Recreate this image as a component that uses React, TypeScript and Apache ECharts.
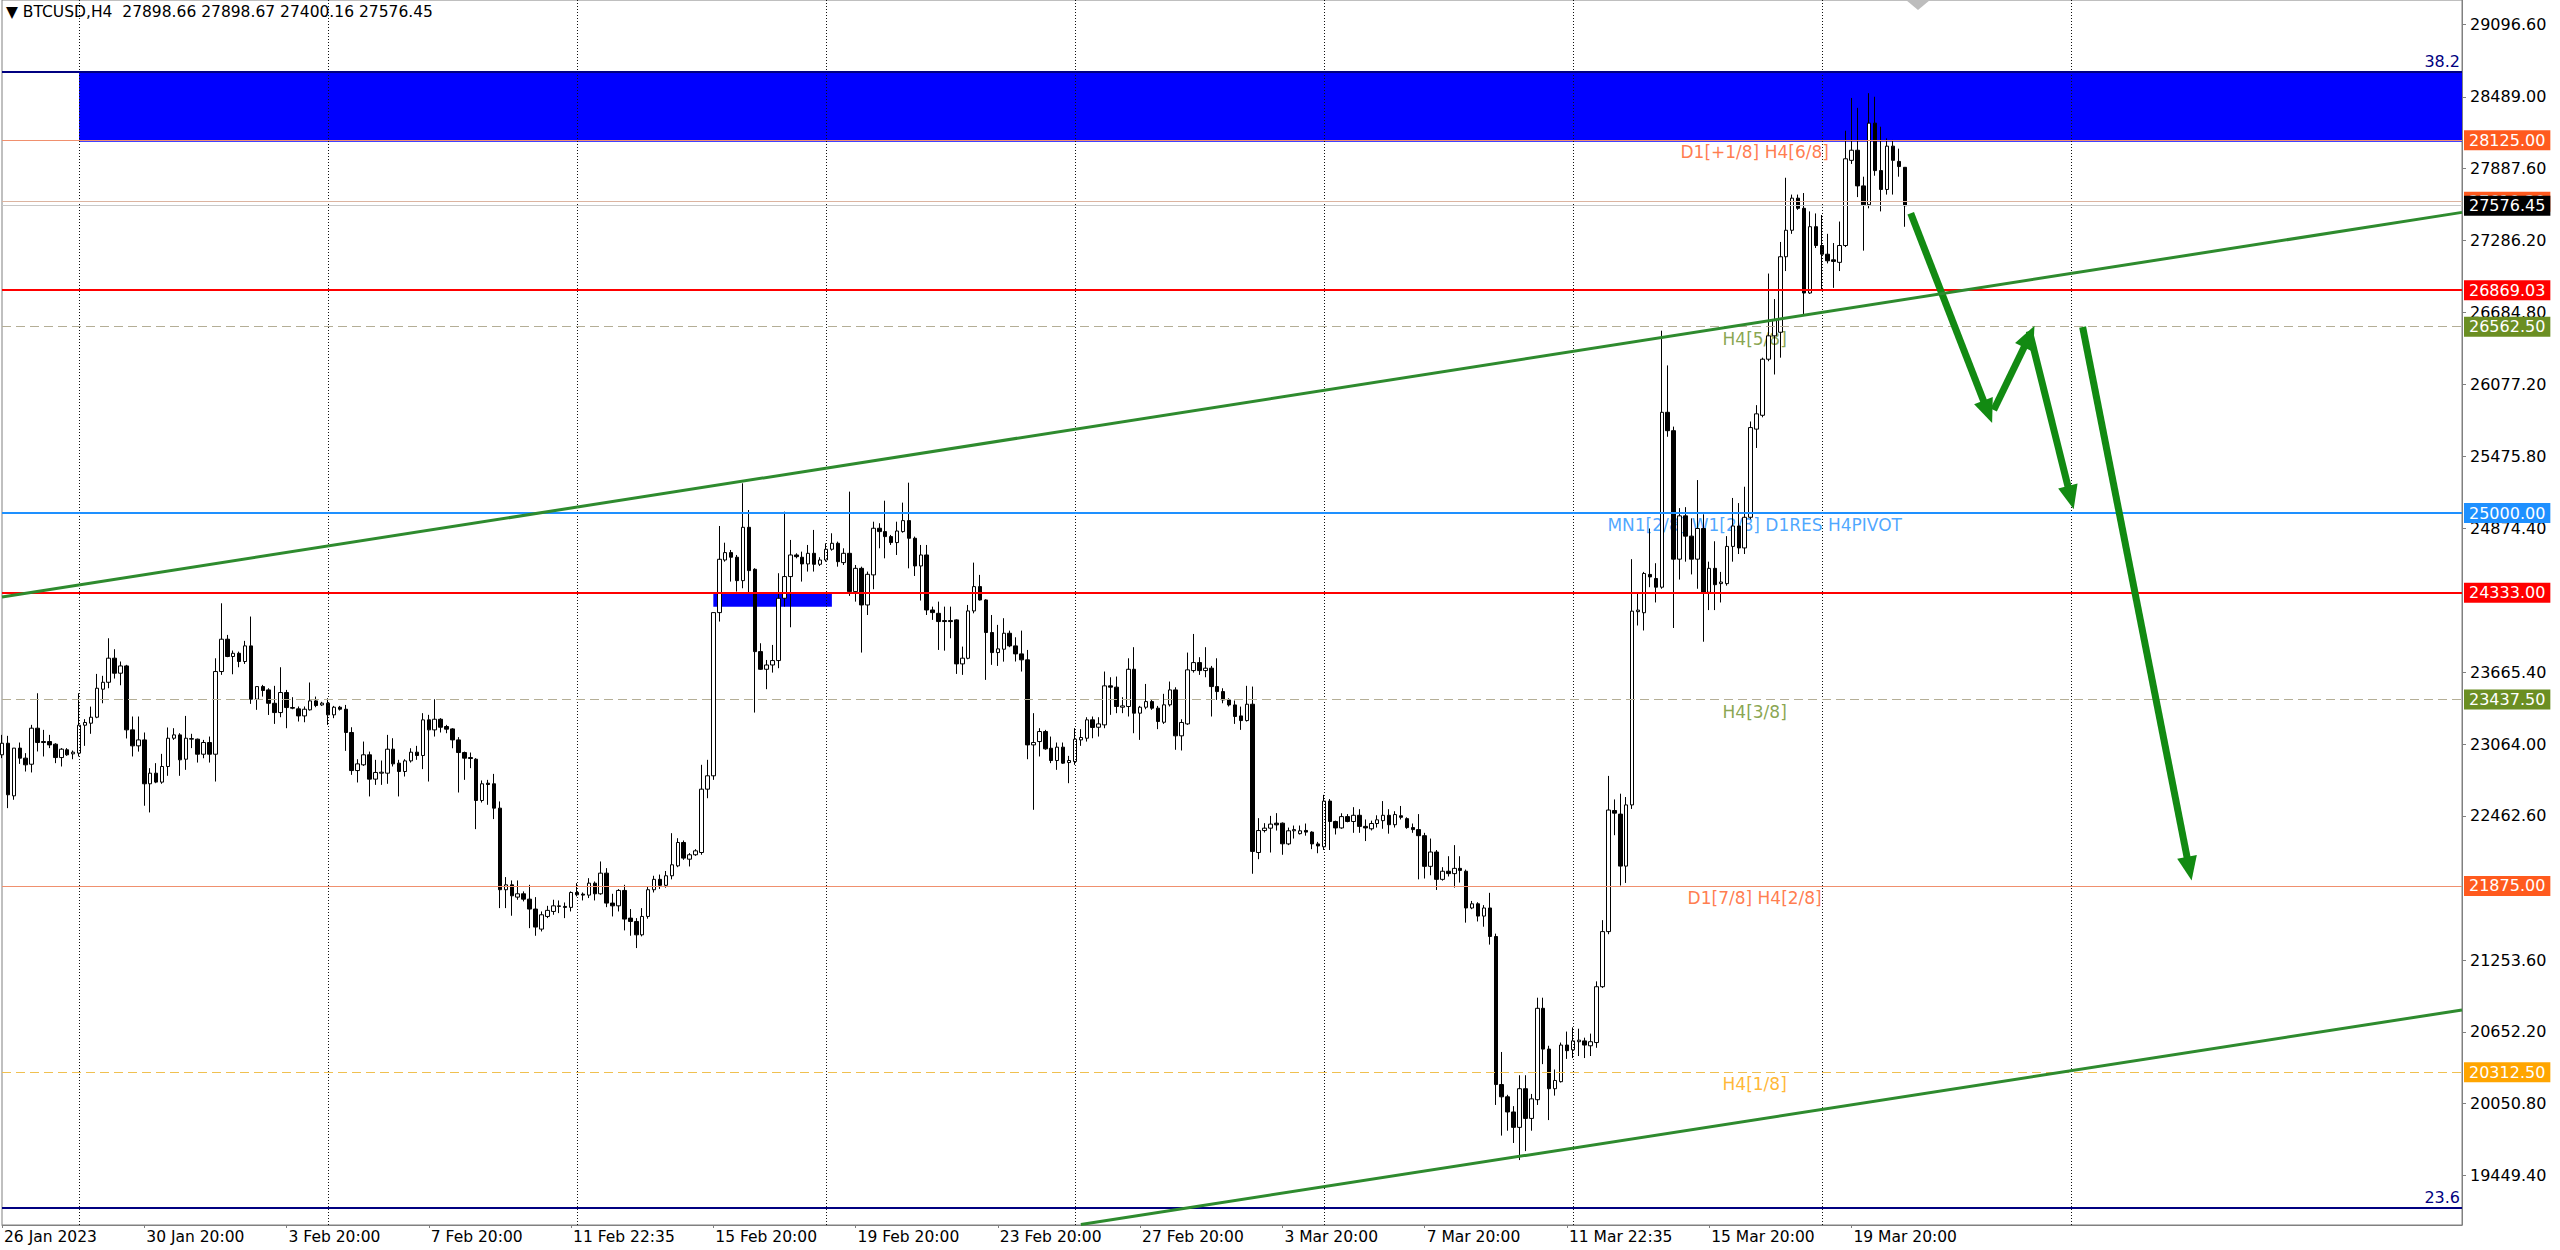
import React, { useEffect, useRef } from "react";
import * as echarts from "echarts";

const SYMBOL = "BTCUSD";
const TIMEFRAME = "H4";

// [open, high, low, close] per H4 bar
const candles: number[][] = [
  [22974, 23141, 22946, 23071], [23071, 23133, 22527, 22639], [22630, 23030, 22597, 23030], [23030, 23077, 22898, 22946],
  [22946, 22988, 22834, 22890], [22895, 23225, 22826, 23197], [23197, 23490, 23002, 23077], [23085, 23183, 22960, 23077],
  [23085, 23141, 23030, 23057], [23063, 23071, 22904, 22951], [22951, 23030, 22876, 23021], [23016, 23030, 22965, 22974],
  [22982, 23010, 22937, 22996], [22988, 23490, 22960, 23222], [23222, 23273, 23049, 23245], [23239, 23378, 23150, 23289],
  [23289, 23652, 23281, 23532], [23524, 23636, 23406, 23582], [23582, 23951, 23532, 23784], [23784, 23859, 23613, 23658],
  [23658, 23756, 23557, 23719], [23719, 23728, 23111, 23183], [23183, 23295, 22960, 23049], [23049, 23295, 23001, 23099],
  [23099, 23161, 22547, 22731], [22731, 22862, 22491, 22820], [22820, 22904, 22736, 22745], [22745, 22982, 22731, 22876],
  [22876, 23203, 22798, 23113], [23113, 23197, 23099, 23141], [23141, 23155, 22798, 22932], [22937, 23300, 22848, 23113],
  [23105, 23150, 23030, 23110], [23105, 23110, 22909, 22979], [22979, 23099, 22945, 23077], [23077, 23127, 22909, 22979],
  [22979, 23783, 22750, 23672], [23672, 24244, 23644, 23943], [23943, 23979, 23792, 23798], [23798, 23848, 23649, 23825],
  [23825, 23839, 23708, 23756], [23756, 23929, 23736, 23887], [23887, 24133, 23401, 23440], [23440, 23546, 23351, 23546],
  [23546, 23560, 23462, 23513], [23518, 23532, 23308, 23406], [23406, 23552, 23233, 23328], [23328, 23708, 23289, 23496],
  [23496, 23518, 23197, 23370], [23370, 23457, 23356, 23365], [23359, 23379, 23253, 23300], [23300, 23379, 23247, 23356],
  [23351, 23580, 23345, 23426], [23426, 23462, 23373, 23387], [23392, 23418, 23384, 23407], [23407, 23448, 23225, 23309],
  [23309, 23384, 23281, 23373], [23373, 23384, 23345, 23356], [23356, 23392, 23007, 23161], [23161, 23205, 22806, 22842],
  [22842, 22937, 22742, 22898], [22890, 23085, 22881, 22974], [22974, 23001, 22625, 22770], [22770, 22932, 22722, 22826],
  [22820, 22926, 22722, 22828], [22820, 23141, 22731, 23021], [23021, 23113, 22876, 22898], [22904, 22932, 22625, 22834],
  [22834, 22937, 22792, 22923], [22923, 23029, 22909, 22996], [22996, 23049, 22932, 22968], [22968, 23323, 22854, 23267],
  [23267, 23309, 22750, 23183], [23183, 23440, 23127, 23272], [23272, 23281, 23161, 23205], [23211, 23225, 23155, 23189],
  [23191, 23197, 23029, 23099], [23099, 23122, 22658, 22993], [22993, 23001, 22764, 22946], [22951, 22993, 22862, 22943],
  [22937, 22946, 22351, 22591], [22591, 22759, 22574, 22731], [22736, 22764, 22555, 22725], [22731, 22814, 22435, 22527],
  [22527, 22583, 21689, 21843], [21843, 21949, 21689, 21884], [21884, 21921, 21625, 21792], [21781, 21921, 21759, 21809],
  [21809, 21829, 21745, 21764], [21764, 21884, 21521, 21681], [21681, 21781, 21457, 21530], [21513, 21661, 21493, 21633],
  [21619, 21708, 21605, 21670], [21661, 21759, 21633, 21708], [21703, 21753, 21647, 21708], [21703, 21736, 21605, 21695],
  [21695, 21829, 21661, 21820], [21820, 21898, 21787, 21801], [21806, 21820, 21753, 21798], [21798, 21940, 21773, 21898],
  [21898, 21912, 21753, 21809], [21809, 22080, 21801, 21982], [21982, 22024, 21697, 21731], [21731, 21809, 21619, 21708],
  [21708, 21848, 21661, 21837], [21837, 21884, 21502, 21597], [21605, 21681, 21457, 21577], [21577, 21605, 21354, 21465],
  [21465, 21689, 21452, 21619], [21619, 21870, 21600, 21843], [21843, 21960, 21820, 21930], [21930, 21970, 21850, 21880],
  [21880, 22000, 21860, 21960], [21960, 22317, 21930, 22052], [22043, 22275, 22032, 22239], [22239, 22256, 22094, 22108],
  [22099, 22150, 22038, 22136], [22136, 22183, 22127, 22169], [22155, 22890, 22136, 22686], [22686, 22932, 22610, 22798],
  [22798, 24166, 22764, 24166], [24166, 24892, 24091, 24613], [24607, 24752, 24593, 24669], [24669, 24691, 24426, 24630],
  [24630, 24649, 24342, 24434], [24434, 25250, 24370, 24881], [24881, 25026, 24328, 24518], [24529, 24538, 23328, 23839],
  [23839, 23909, 23686, 23691], [23691, 23769, 23524, 23727], [23727, 23895, 23663, 23764], [23764, 24496, 23700, 24286],
  [24286, 25012, 24216, 24468], [24468, 24775, 24043, 24649], [24649, 24663, 24621, 24635], [24630, 24677, 24426, 24574],
  [24574, 24733, 24510, 24663], [24663, 24859, 24510, 24571], [24571, 24630, 24557, 24607], [24607, 24747, 24593, 24697],
  [24697, 24831, 24685, 24747], [24747, 24761, 24551, 24593], [24585, 24705, 24565, 24663], [24663, 25180, 24306, 24342],
  [24342, 24565, 24258, 24537], [24537, 24551, 23831, 24230], [24230, 24510, 24146, 24487], [24482, 24928, 24362, 24873],
  [24873, 24915, 24705, 24845], [24845, 25104, 24621, 24803], [24803, 24817, 24733, 24753], [24753, 24928, 24649, 24850],
  [24845, 25088, 24836, 24937], [24937, 25255, 24537, 24789], [24789, 24803, 24473, 24557], [24557, 24733, 24267, 24649],
  [24649, 24733, 24146, 24188], [24188, 24216, 24105, 24166], [24160, 24258, 23853, 24091], [24099, 24216, 23847, 24091],
  [24099, 24216, 23951, 24091], [24105, 24110, 23652, 23736], [23736, 23881, 23644, 23784], [23783, 24230, 23775, 24180],
  [24180, 24585, 24160, 24384], [24384, 24482, 24267, 24272], [24272, 24278, 23602, 23999], [23999, 24146, 23728, 23831],
  [23831, 24063, 23719, 23862], [23859, 24119, 23755, 23993], [23993, 24015, 23876, 23887], [23887, 23959, 23756, 23820],
  [23820, 24015, 23672, 23770], [23770, 23853, 22937, 23057], [23057, 23323, 22513, 23077], [23085, 23197, 22960, 23169],
  [23169, 23183, 23016, 23024], [23029, 23127, 22904, 22926], [22926, 23077, 22848, 23038], [23038, 23077, 22898, 22904],
  [22909, 22965, 22736, 22926], [22918, 23197, 22890, 23105], [23099, 23189, 23049, 23119], [23113, 23289, 23085, 23267],
  [23267, 23295, 23113, 23203], [23205, 23289, 23127, 23233], [23225, 23672, 23197, 23552], [23552, 23624, 23309, 23541],
  [23541, 23630, 23323, 23379], [23373, 23457, 23323, 23384], [23379, 23783, 23295, 23691], [23691, 23876, 23155, 23323],
  [23323, 23384, 23099, 23373], [23373, 23568, 23356, 23420], [23420, 23440, 23351, 23365], [23365, 23384, 23189, 23253],
  [23247, 23485, 23233, 23393], [23393, 23588, 23379, 23518], [23518, 23540, 23016, 23133], [23133, 23272, 23010, 23245],
  [23233, 23831, 23225, 23686], [23680, 23987, 23663, 23747], [23747, 23792, 23644, 23680], [23680, 23876, 23624, 23700],
  [23700, 23719, 23295, 23546], [23546, 23783, 23434, 23504], [23504, 23532, 23406, 23434], [23434, 23448, 23379, 23392],
  [23392, 23429, 23233, 23295], [23300, 23378, 23183, 23261], [23261, 23552, 23253, 23398], [23398, 23546, 21977, 22164],
  [22155, 22443, 22099, 22339], [22339, 22401, 22323, 22359], [22359, 22462, 22155, 22393], [22401, 22485, 22339, 22387],
  [22401, 22407, 22136, 22228], [22227, 22364, 22217, 22337], [22337, 22381, 22272, 22347], [22313, 22381, 22306, 22337],
  [22340, 22398, 22296, 22326], [22326, 22333, 22183, 22227], [22227, 22244, 22149, 22210], [22203, 22638, 22176, 22586],
  [22586, 22603, 22176, 22415], [22415, 22422, 22306, 22361], [22361, 22484, 22354, 22456], [22456, 22477, 22408, 22415],
  [22415, 22535, 22320, 22467], [22467, 22518, 22320, 22374], [22374, 22432, 22251, 22361], [22354, 22422, 22340, 22398],
  [22398, 22467, 22364, 22429], [22422, 22586, 22354, 22467], [22467, 22518, 22313, 22388], [22388, 22501, 22364, 22473],
  [22463, 22545, 22432, 22450], [22439, 22450, 22354, 22364], [22364, 22398, 22320, 22347], [22347, 22477, 21930, 22296],
  [22296, 22320, 21937, 22039], [22039, 22272, 21964, 22159], [22159, 22176, 21841, 21930], [21930, 22032, 21919, 21998],
  [21998, 22124, 21954, 21978], [21978, 22217, 21861, 22022], [22022, 22124, 21903, 22005], [21998, 22012, 21567, 21690],
  [21690, 21749, 21680, 21725], [21725, 21738, 21577, 21622], [21622, 21714, 21533, 21690], [21690, 21817, 21383, 21451],
  [21451, 21475, 20039, 20210], [20210, 20483, 19782, 20107], [20107, 20124, 19823, 19980], [19980, 20029, 19720, 19851],
  [19851, 20288, 19577, 20175], [20175, 20288, 19652, 19926], [19926, 20131, 19823, 20090], [20083, 20938, 20039, 20849],
  [20849, 20938, 20381, 20507], [20507, 20535, 19912, 20175], [20175, 20336, 20117, 20244], [20234, 20562, 20227, 20541],
  [20541, 20654, 20425, 20494], [20501, 20689, 20432, 20576], [20569, 20678, 20449, 20582], [20576, 20603, 20432, 20541],
  [20535, 20637, 20449, 20569], [20562, 21075, 20518, 21030], [21030, 21588, 21020, 21492], [21492, 22797, 21470, 22511],
  [22507, 22600, 22300, 22485], [22477, 22648, 21878, 22041], [22041, 22620, 21900, 22554], [22554, 24614, 22520, 24178],
  [24174, 24324, 24058, 24187], [24165, 24507, 24016, 24494], [24486, 24871, 24379, 24465], [24452, 24580, 24251, 24379],
  [24379, 26529, 24366, 25845], [25845, 26238, 25640, 25691], [25691, 25725, 24037, 24614], [24614, 25042, 24443, 24977],
  [24977, 25050, 24593, 24807], [24807, 24956, 24486, 24614], [24614, 25277, 24366, 24871], [24871, 24990, 23922, 24336],
  [24336, 24593, 24187, 24537], [24537, 24764, 24187, 24400], [24409, 24507, 24251, 24422], [24409, 24807, 24392, 24721],
  [24721, 25127, 24593, 24892], [24892, 25084, 24657, 24708], [24708, 25221, 24657, 24965], [24965, 25768, 24948, 25717],
  [25704, 25905, 25546, 25832], [25820, 26303, 25803, 26290], [26290, 27008, 26273, 26486], [26486, 26794, 26162, 26614],
  [26516, 27273, 26303, 27149], [27149, 27811, 27029, 27371], [27371, 27670, 27341, 27640], [27640, 27670, 27542, 27555],
  [27555, 27683, 26657, 26845], [26845, 27529, 26837, 27401], [27401, 27512, 27222, 27243], [27243, 27499, 26871, 27170],
  [27170, 27341, 27093, 27115], [27123, 27264, 26888, 27110], [27102, 27444, 27029, 27243], [27243, 28205, 27230, 27970],
  [27957, 28480, 27927, 28042], [28042, 28397, 27649, 27743], [27743, 27820, 27200, 27585], [27585, 28520, 27555, 28269],
  [28269, 28490, 27828, 27871], [27871, 28239, 27529, 27713], [27713, 28141, 27670, 28076], [28076, 28128, 27670, 27957],
  [27948, 28055, 27820, 27905], [27898.66, 27898.67, 27400.16, 27576.45],
];

const SLOT_COUNT = 416;
const TIME_LABEL_STEP = 24;
const timeLabels = [
  "26 Jan 2023", "30 Jan 20:00", "3 Feb 20:00", "7 Feb 20:00", "11 Feb 22:35", "15 Feb 20:00", "19 Feb 20:00",
  "23 Feb 20:00", "27 Feb 20:00", "3 Mar 20:00", "7 Mar 20:00", "11 Mar 22:35", "15 Mar 20:00", "19 Mar 20:00",
];
const gridBars = [13, 55, 97, 139, 181, 223, 265, 307, 349];
const priceTicks = [
  29096.6, 28489.0, 27887.6, 27286.2, 26684.8, 26077.2, 25475.8, 24874.4, 23665.4, 23064.0, 22462.6, 21253.6,
  20652.2, 20050.8, 19449.4,
];
const PRICE_MIN = 19032.6;
const PRICE_MAX = 29301.1;

// horizontal levels with price tag
const levelPrices = [28125, 27610.3, 27576.45, 26869.03, 26562.5, 25000, 24333, 23437.5, 21875, 20312.5];
const levelKinds = ["orange", "ask", "bid", "red", "olive", "blue", "red", "olive", "orange", "gold"];

// level captions
const captionTexts = ["D1[+1/8] H4[6/8]", "H4[5/8]", "MN1[2/8] W1[2/8] D1RES H4PIVOT", "H4[3/8]", "D1[7/8] H4[2/8]", "H4[1/8]"];
const captionPrices = [28125, 26562.5, 25000, 23437.5, 21875, 20312.5];
const captionKinds = ["orange", "olive", "blue", "olive", "orange", "gold"];
const CAPTION_BAR = 295;

// fibonacci levels
const fibNames = ["38.2", "23.6"];
const fibPrices = [28697.6, 19181];

// zones: [startBar, endBar, low, high]
const bigZone = [13, 415, 28113, 28697.6];
const smallZone = [120, 140, 24215, 24328];

// trendlines: [bar, price]
const upperTrend = [[0, 24297], [415, 27521]];
const lowerTrend = [[182, 19037], [415, 20835]];

// projected path arrows: [[bar, price], [bar, price]]
const arrowPaths = [
  [[322, 27513], [335, 25850]],
  [[336, 25864], [342, 26480]],
  [[342, 26526], [349, 25130]],
  [[351, 26560], [369, 22020]],
];

const FONT = "DejaVu Sans";
const KIND_STYLE: Record<string, { line: string; tag: string; width: number; dashed: boolean; text: string }> = {
  orange: { line: "#f0906e", tag: "#ff5a1e", width: 1, dashed: false, text: "#ff5a1e" },
  ask: { line: "#dcb4a0", tag: "#ff5a1e", width: 1, dashed: false, text: "#ff5a1e" },
  bid: { line: "#c8c8c8", tag: "#000000", width: 1, dashed: false, text: "#000" },
  red: { line: "#ff0000", tag: "#ff0000", width: 2, dashed: false, text: "#ff0000" },
  olive: { line: "#b4ae96", tag: "#6b8e23", width: 1, dashed: true, text: "#6b8e23" },
  blue: { line: "#1e90ff", tag: "#1e90ff", width: 2, dashed: false, text: "#1e90ff" },
  gold: { line: "#f0c050", tag: "#ffa500", width: 1, dashed: true, text: "#ffa500" },
};

function sparse(points: number[][]) {
  const arr: (number | null)[] = new Array(SLOT_COUNT).fill(null);
  points.forEach(([i, v]) => (arr[i] = v));
  return arr;
}

export default function App() {
  const ref = useRef<HTMLDivElement>(null);
  useEffect(() => {
    if (!ref.current) return;
    const chart = echarts.init(ref.current, null, { renderer: "svg" });
    const categories = Array.from({ length: SLOT_COUNT }, (_, i) => String(i));
    const isLabelIdx = (i: number) => i % TIME_LABEL_STEP === 0 && i / TIME_LABEL_STEP < timeLabels.length;
    const last = candles[candles.length - 1];

    const levelLines = levelPrices.map((p, k) => {
      const s = KIND_STYLE[levelKinds[k]];
      return {
        yAxis: p,
        lineStyle: { color: s.line, width: s.width, type: s.dashed ? [9, 5] : "solid" },
        label: {
          show: true,
          position: "end",
          distance: 2,
          formatter: p.toFixed(2),
          color: "#ffffff",
          backgroundColor: s.tag,
          padding: [3, 5, 2, 5],
          fontFamily: FONT,
          fontSize: 16,
          lineHeight: 15,
        },
      };
    });
    const fibLines = fibPrices.map((p, k) => ({
      yAxis: p,
      lineStyle: { color: "#000080", width: 2, type: "solid" },
      label: {
        show: true,
        position: "insideEndTop",
        distance: 2,
        formatter: fibNames[k],
        color: "#000080",
        fontFamily: FONT,
        fontSize: 16,
      },
    }));
    const vLines = gridBars.map((b) => ({
      xAxis: b,
      lineStyle: { color: "#111", width: 1, type: [1, 2] },
      label: { show: false },
    }));

    const option: any = {
      animation: false,
      backgroundColor: "#ffffff",
      title: {
        text: `▼ ${SYMBOL},${TIMEFRAME}  ${last[0].toFixed(2)} ${last[1].toFixed(2)} ${last[2].toFixed(2)} ${last[3].toFixed(2)}`,
        left: 6,
        top: 4,
        padding: 0,
        textStyle: { fontFamily: FONT, fontSize: 15.5, fontWeight: "normal", color: "#000" },
      },
      grid: {
        left: 2,
        right: 98,
        top: 0,
        bottom: 25,
        show: true,
        borderColor: "#808080",
        borderWidth: 1,
        backgroundColor: "#ffffff",
      },
      xAxis: {
        type: "category",
        data: categories,
        boundaryGap: false,
        axisLine: { show: true, lineStyle: { color: "#808080", width: 1 } },
        axisTick: { show: true, interval: (i: number) => isLabelIdx(i), length: 3, lineStyle: { color: "#808080" } },
        axisLabel: {
          interval: (i: number) => isLabelIdx(i),
          formatter: (_v: string, i: number) => (isLabelIdx(i) ? timeLabels[i / TIME_LABEL_STEP] : ""),
          color: "#000",
          fontFamily: FONT,
          fontSize: 15.5,
          align: "left",
          margin: 4,
          padding: [0, 0, 0, 2],
        },
        splitLine: { show: false },
      },
      yAxis: {
        type: "value",
        position: "right",
        min: PRICE_MIN,
        max: PRICE_MAX,
        axisLine: { show: true, lineStyle: { color: "#808080" } },
        axisTick: { show: true, customValues: priceTicks, length: 4, lineStyle: { color: "#808080" } },
        axisLabel: {
          customValues: priceTicks,
          formatter: (v: number) => v.toFixed(2),
          color: "#000",
          fontFamily: FONT,
          fontSize: 16,
          margin: 8,
        },
        splitLine: { show: false },
      },
      graphic: [
        {
          type: "polygon",
          shape: { points: [[1906, 0], [1930, 0], [1918, 10]] },
          style: { fill: "#bdbdbd" },
          z: 100,
        },
      ],
      series: [
        {
          type: "line",
          name: "zones",
          data: [],
          z: 1,
          silent: true,
          markArea: {
            silent: true,
            data: [
              [
                { xAxis: bigZone[0], yAxis: bigZone[3], itemStyle: { color: "#0000ff", opacity: 1 } },
                { xAxis: bigZone[1], yAxis: bigZone[2] },
              ],
              [
                { xAxis: smallZone[0], yAxis: smallZone[3], itemStyle: { color: "#0000ff", opacity: 1 } },
                { xAxis: smallZone[1], yAxis: smallZone[2] },
              ],
            ],
          },
        },
        {
          type: "line",
          name: "levels",
          data: [],
          z: 2,
          silent: true,
          markLine: {
            silent: true,
            symbol: ["none", "none"],
            data: [...vLines, ...fibLines, ...levelLines],
          },
        },
        {
          type: "scatter",
          name: "captions",
          z: 3,
          silent: true,
          symbolSize: 2,
          itemStyle: { color: "rgba(0,0,0,0)" },
          label: { show: true },
          data: captionTexts.map((t, k) => ({
            value: [CAPTION_BAR, captionPrices[k]],
            label: {
              show: true,
              position: "inside",
              offset: [4, 12],
              formatter: t,
              color: KIND_STYLE[captionKinds[k]].text,
              fontFamily: FONT,
              fontSize: 17,
            },
          })),
        },
        {
          type: "candlestick",
          name: SYMBOL,
          z: 4,
          barWidth: 4,
          data: candles.map(([o, h, l, c]) => [o, c, l, h]),
          itemStyle: {
            color: "#ffffff",
            color0: "#000000",
            borderColor: "#000000",
            borderColor0: "#000000",
            borderWidth: 1,
          },
        },
        {
          type: "line",
          name: "upperTrend",
          z: 5,
          data: sparse(upperTrend),
          connectNulls: true,
          showSymbol: false,
          lineStyle: { color: "#2e8b2e", width: 3 },
        },
        {
          type: "line",
          name: "lowerTrend",
          z: 5,
          data: sparse(lowerTrend),
          connectNulls: true,
          showSymbol: false,
          lineStyle: { color: "#2e8b2e", width: 3 },
        },
        {
          type: "line",
          name: "arrows",
          data: [],
          z: 6,
          silent: true,
          markLine: {
            silent: true,
            symbol: ["none", "triangle"],
            symbolSize: [20, 24],
            lineStyle: { color: "#128a12", width: 7, type: "solid" },
            itemStyle: { color: "#128a12" },
            label: { show: false },
            data: arrowPaths.map(([a, b]) => [{ coord: a }, { coord: b }]),
          },
        },
      ],
    };
    chart.setOption(option);
    return () => chart.dispose();
  }, []);
  return <div ref={ref} style={{ position: "fixed", left: 0, top: 0, width: 2560, height: 1250 }} />;
}
